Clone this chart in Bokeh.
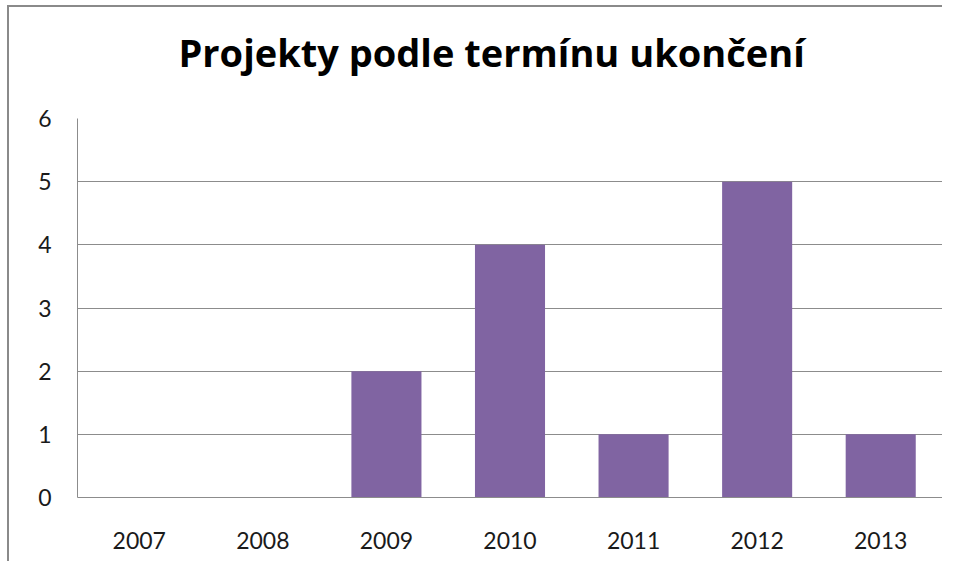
from bokeh.plotting import figure
from bokeh.models import FactorRange, SingleIntervalTicker, Range1d, Title
from bokeh.embed import file_html
from bokeh.resources import INLINE

years = ["2007", "2008", "2009", "2010", "2011", "2012", "2013"]
counts = [0, 0, 2, 4, 1, 5, 1]
title_text = "Projekty podle termínu ukončení"

p = figure(x_range=FactorRange(*years, range_padding=0), y_range=Range1d(0, 6),
           width=935, height=556, output_backend="svg", toolbar_location=None,
           min_border_left=68, min_border_right=2, min_border_bottom=66, min_border_top=111)
p.styles = {"border-left": "2px solid #8a8a8a", "border-top": "2px solid #8a8a8a",
            "margin-left": "7px", "margin-top": "5px"}

p.vbar(x=years, top=counts, width=0.567, color="#8064A2", line_color=None)

# spacer between frame and title, then the title itself
p.add_layout(Title(text=" ", text_font_size="24px", standoff=0), "above")
p.add_layout(Title(text=title_text, align="left", offset=101, text_font="Open Sans",
                   text_font_style="bold", text_font_size="38px",
                   text_color="#000000", standoff=23), "above")

p.outline_line_color = None
p.xgrid.grid_line_color = None
p.ygrid.grid_line_color = "#8c8c8c"
p.ygrid.grid_line_width = 1
p.yaxis.ticker = SingleIntervalTicker(interval=1)

for ax in (p.xaxis, p.yaxis):
    ax.axis_line_color = "#8c8c8c"
    ax.major_tick_line_color = None
    ax.minor_tick_line_color = None
    ax.major_label_text_font = "Lato"
    ax.major_label_text_font_size = "23px"
    ax.major_label_text_color = "#1a1a1a"

p.xaxis.major_label_standoff = 28
p.yaxis.major_label_standoff = 20

open("out.html", "w").write(file_html(p, INLINE))
